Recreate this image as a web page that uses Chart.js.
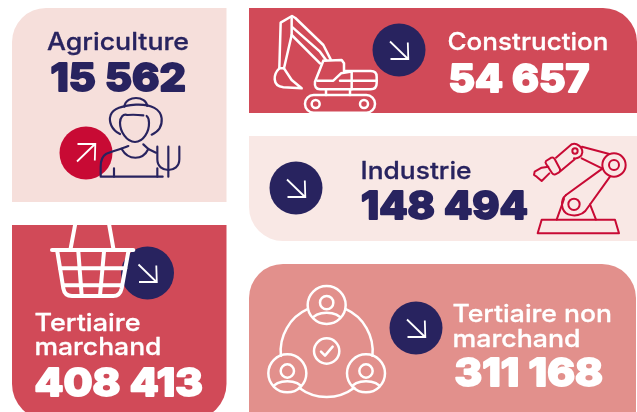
<!DOCTYPE html>
<html>
<head>
<meta charset="utf-8">
<script src="https://cdn.jsdelivr.net/npm/chart.js@4"></script>
<style>
  html, body { margin: 0; padding: 0; background: #fff; }
  canvas { display: block; }
</style>
</head>
<body>
<canvas id="chart" width="637" height="412"></canvas>
<script>
const categories = ['Agriculture', 'Construction', 'Industrie', 'Tertiaire marchand', 'Tertiaire non marchand'];
const jobs = [15562, 54657, 148494, 408413, 311168];
const trends = ['up', 'down', 'down', 'down', 'down'];

const navy = '#28235f';
const red = '#d14a58';
const crimson = '#c80a34';

// card geometry, lines of each label and where the text goes
const cards = [
  { box: [12, 8, 214.5, 194], radii: [34, 0, 0, 0], fill: '#f6dfdb', ink: navy, disc: crimson, circle: [86, 153],
    lines: [['Agriculture', 47, 50, 142]], num: [50.5, 91, 135.5], icon: farmer },
  { box: [249, 8, 388, 105], radii: [0, 34, 0, 0], fill: red, ink: '#fff', disc: navy, circle: [399, 50],
    lines: [['Construction', 447.5, 50, 161]], num: [448.5, 91.5, 141], icon: excavator },
  { box: [249, 136, 388, 105], radii: [0, 0, 0, 34], fill: '#f9e8e5', ink: navy, disc: navy, circle: [296, 188],
    lines: [['Industrie', 360.5, 179, 111]], num: [361, 219, 167], icon: robot },
  { box: [12, 225, 214.5, 195], radii: [0, 0, 36, 36], fill: red, ink: '#fff', disc: navy, circle: [147.5, 273],
    lines: [['Tertiaire', 34.5, 331, 106], ['marchand', 34.5, 355, 127]], num: [34.5, 396, 168.5], icon: basket },
  { box: [249, 264, 387, 160], radii: [34, 34, 0, 0], fill: '#e2908c', ink: '#fff', disc: navy, circle: [416, 328],
    lines: [['Tertiaire non', 452.5, 322, 159.5], ['marchand', 452.5, 347, 128]], num: [454.5, 386, 148.5], icon: network }
];

function formatNumber(n) {
  return String(n).replace(/\B(?=(\d{3})+$)/g, ' ');
}

function fitText(ctx, str, x, y, width, font, color, bold) {
  ctx.save();
  ctx.font = font;
  ctx.fillStyle = color;
  ctx.textBaseline = 'alphabetic';
  ctx.translate(x, y);
  ctx.scale(width / ctx.measureText(str).width, 1);
  if (bold) {
    ctx.strokeStyle = color;
    ctx.lineWidth = bold;
    ctx.lineJoin = 'round';
    ctx.strokeText(str, 0, 0);
  }
  ctx.fillText(str, 0, 0);
  ctx.restore();
}

function arrow(ctx, cx, cy, dir) {
  const s = dir === 'up' ? -1 : 1;
  ctx.save();
  ctx.translate(cx, cy);
  ctx.strokeStyle = '#fff';
  ctx.lineWidth = 1.8;
  ctx.beginPath();
  ctx.moveTo(-9, -8.5 * s);
  ctx.lineTo(9, 9 * s);
  ctx.moveTo(-8.5, 9 * s);
  ctx.lineTo(9.3, 9 * s);
  ctx.lineTo(8.8, -7.5 * s);
  ctx.stroke();
  ctx.restore();
}

// icons are traced in the 3x crop coordinates, so scale down on entry
function traced(ctx, ox, oy, color, lw, draw) {
  ctx.save();
  ctx.translate(ox, oy);
  ctx.scale(1 / 3, 1 / 3);
  ctx.strokeStyle = color;
  ctx.lineWidth = lw;
  ctx.lineCap = 'round';
  ctx.lineJoin = 'round';
  draw(ctx);
  ctx.restore();
}

function stroke(ctx, d) {
  ctx.stroke(new Path2D(d));
}

function ring(ctx, x, y, r) {
  ctx.beginPath();
  ctx.arc(x, y, r, 0, Math.PI * 2);
  ctx.stroke();
}

function farmer(ctx) {
  traced(ctx, 0, 0, navy, 6.5, c => {
    stroke(c, 'M360 402 C335 390 325 365 332 345 C340 325 365 318 408 314 C455 312 482 328 485 355 C487 378 475 395 455 404');
    stroke(c, 'M373 320 C375 300 395 294 408 294 C425 294 440 303 442 318');
    stroke(c, 'M430 346 C410 344 395 344 382 345 C370 340 360 352 360 368 C360 395 380 425 405 426 C430 425 448 395 447 368 C447 358 445 352 440 348');
    stroke(c, 'M385 438 C360 448 335 455 318 462 C305 470 302 482 302 500 L302 530 L488 530');
    stroke(c, 'M342 505 L342 530 M472 505 L472 530');
    stroke(c, 'M365 447 C385 482 428 482 445 447 L430 433');
    stroke(c, 'M445 447 L468 458');
    stroke(c, 'M505 440 L505 530');
    stroke(c, 'M472 440 L472 478 C472 500 488 510 505 510 C522 510 538 500 538 478 L538 440');
  });
}

function basket(ctx) {
  traced(ctx, 0, 210, '#fff', 12, c => {
    stroke(c, 'M228 30 L212 115 M325 30 L340 115');
    stroke(c, 'M156 120 L400 120');
    stroke(c, 'M172 125 L190 235 Q194 258 216 258 L340 258 Q360 258 365 235 L385 125');
    stroke(c, 'M235 125 L245 256 M312 125 L300 256');
    stroke(c, 'M180 175 L376 175 M190 226 L366 226');
  });
}

function excavator(ctx) {
  traced(ctx, 240, 0, '#fff', 7.5, c => {
    stroke(c, 'M118 205 L122 68 L156 48 L166 54 L250 135 L272 178');
    stroke(c, 'M155 55 L155 105 L240 190 M155 80 L240 155 L258 180');
    stroke(c, 'M132 205 L155 105');
    stroke(c, 'M118 205 C100 222 95 258 130 262 L185 265 L155 240 L132 205 Z');
    stroke(c, 'M250 182 L305 180 L312 190 L312 213 M250 182 L225 245 Q222 267 240 268 L392 268 Q410 268 410 250 L410 230 Q410 213 392 213 L315 213');
    stroke(c, 'M232 242 L280 242 L303 220 L330 215 M300 242 L410 242 M335 215 L335 268');
    stroke(c, 'M258 268 L258 285 M330 268 L330 285');
    c.beginPath();
    c.roundRect(195, 285, 210, 53, 26);
    c.stroke();
    ring(c, 227, 312, 12);
    ring(c, 372, 312, 12);
  });
}

function robot(ctx) {
  traced(ctx, 240, 125, crimson, 6, c => {
    stroke(c, 'M905 284 L1125 284 L1137 325 L893 325 Z');
    stroke(c, 'M950 284 L972 222 M1068 284 L1050 238');
    ring(c, 1002, 238, 17);
    stroke(c, 'M978 210 C960 225 962 258 985 268 C1005 275 1025 270 1036 258 L1110 155');
    stroke(c, 'M978 210 L1088 130');
    ring(c, 1122, 120, 35);
    ring(c, 1122, 120, 15);
    stroke(c, 'M1026 65 L1108 87 M1025 100 L1086 130');
    ring(c, 1005, 78, 8);
    stroke(c, 'M995 58 C1010 52 1028 66 1027 82 C1026 95 1012 102 1002 100 M995 58 L948 98 M1005 102 L962 138');
    stroke(c, 'M918 108 L934 98 Q940 96 944 102 L960 132 Q962 140 956 143 L946 148 Q940 150 936 144 L918 116 Q915 112 918 108 Z');
    stroke(c, 'M925 125 L905 128 L884 140 L882 150 L890 155 L905 168 L928 145');
  });
}

function person(c, x, y) {
  ring(c, x, y, 57);
  ring(c, x, y - 7, 20);
  c.save();
  c.beginPath();
  c.arc(x, y, 57, 0, Math.PI * 2);
  c.clip();
  stroke(c, 'M' + (x - 48) + ' ' + (y + 46) + ' C' + (x - 30) + ' ' + (y + 16) + ' ' + (x + 30) + ' ' + (y + 16) + ' ' + (x + 48) + ' ' + (y + 46));
  c.restore();
}

function network(ctx) {
  traced(ctx, 240, 255, '#fff', 7.5, c => {
    person(c, 260, 150);
    person(c, 142, 355);
    person(c, 378, 355);
    const rad = Math.PI / 180;
    [[-66, 6], [53, 127], [174, 246]].forEach(a => {
      c.beginPath();
      c.arc(260, 288, 138, a[0] * rad, a[1] * rad);
      c.stroke();
    });
    ring(c, 260, 288, 38);
    stroke(c, 'M243 290 L255 302 L278 275');
  });
}

const cardsPlugin = {
  id: 'cards',
  beforeDatasetsDraw(chart) {
    const ctx = chart.ctx;
    const values = chart.data.datasets[0].data;
    cards.forEach((card, i) => {
      ctx.beginPath();
      ctx.roundRect(card.box[0], card.box[1], card.box[2], card.box[3], card.radii);
      ctx.fillStyle = card.fill;
      ctx.fill();

      ctx.beginPath();
      ctx.arc(card.circle[0], card.circle[1], 26.5, 0, Math.PI * 2);
      ctx.fillStyle = card.disc;
      ctx.fill();
      arrow(ctx, card.circle[0], card.circle[1], trends[i]);

      card.icon(ctx);

      card.lines.forEach(l => {
        fitText(ctx, l[0], l[1], l[2], l[3], '500 24px Inter', card.ink, 0.3);
      });
      fitText(ctx, formatNumber(values[i]), card.num[0], card.num[1], card.num[2], '800 38px Inter', card.ink, 1.9);
    });
  }
};

new Chart(document.getElementById('chart'), {
  type: 'bar',
  data: {
    labels: categories,
    datasets: [{ label: 'Emplois', data: jobs, backgroundColor: 'transparent' }]
  },
  options: {
    responsive: false,
    animation: false,
    layout: { padding: 0 },
    plugins: { legend: { display: false }, tooltip: { enabled: false } },
    scales: { x: { display: false }, y: { display: false, beginAtZero: true } }
  },
  plugins: [cardsPlugin]
});
</script>
</body>
</html>
